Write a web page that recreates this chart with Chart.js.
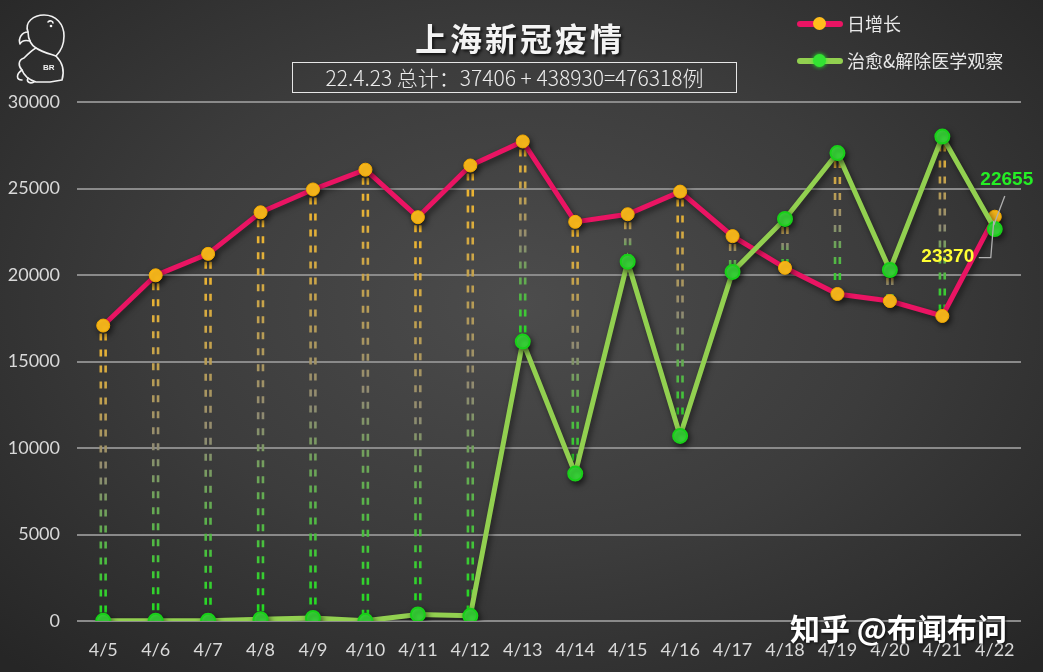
<!DOCTYPE html>
<html>
<head>
<meta charset="utf-8">
<script src="https://cdn.jsdelivr.net/npm/chart.js@4.4.0/dist/chart.umd.min.js"></script>
<style>
  html, body { margin: 0; padding: 0; }
  body {
    width: 1043px; height: 672px; overflow: hidden; position: relative;
    background: radial-gradient(ellipse 70% 75% at 50% 45%, #4c4c4c 0%, #3c3c3c 50%, #262626 100%);
    font-family: "Noto Sans CJK SC", "Noto Sans", sans-serif;
  }
  #wrap { position: absolute; left: 0; top: 0; width: 1043px; height: 672px; }
  .title {
    position: absolute; left: 300px; width: 440px; top: 14px; text-align: center;
    color: #f4f4f4; font-size: 32px; font-weight: bold; letter-spacing: 3px;
    text-shadow: 2px 2px 3px rgba(0,0,0,0.7);
  }
  .sub {
    position: absolute; left: 292px; top: 62px; width: 443px; height: 29px;
    border: 1.5px solid #e6e6e6; color: #ececec; font-size: 21px; line-height: 29px;
    text-align: center; box-sizing: content-box; font-weight: 300;
  }
  .legend { position: absolute; left: 797px; color: #e8e8e8; font-size: 18px; line-height: 20px; }
  .legend .ln { position: absolute; left: 0; top: 7px; width: 46px; height: 6px; border-radius: 3px; }
  .legend .dot { position: absolute; left: 16px; top: 3px; width: 13px; height: 13px; border-radius: 50%; }
  .legend span { position: absolute; left: 50px; top: -1px; white-space: nowrap; }
  .mark {
    position: absolute; left: 790px; top: 605px; color: #fff; font-size: 30px; font-weight: bold;
    white-space: nowrap; text-shadow: 1px 1px 3px rgba(0,0,0,0.8);
  }
</style>
</head>
<body>
<div id="wrap"><canvas id="chart" width="1043" height="672"></canvas></div>

<svg style="position:absolute;left:10px;top:10px" width="70" height="76" viewBox="0 0 70 76">
  <g fill="none" stroke="#f2f2f2" stroke-width="1.6" stroke-linejoin="round" stroke-linecap="round">
    <path d="M18 22 C14 12 24 5 34 5 C46 5 54 14 54 26 C54 36 50 42 46 46 C52 52 55 60 52 70 L40 72 L26 72 C20 70 14 66 12 60 C8 56 8 50 14 48 C18 44 22 40 26 38 C22 36 18 30 18 22 Z"/>
    <path d="M18 22 C12 22 8 28 10 34 C12 30 16 30 20 31"/>
    <path d="M26 38 C32 42 40 44 46 46"/>
    <path d="M12 60 C6 64 6 70 12 70 M18 68 C16 72 20 74 24 72"/>
    <path d="M38 12 C40 10 43 11 43 13"/>
  </g>
  <circle cx="41" cy="16" r="1.3" fill="#f2f2f2"/>
  <text x="33" y="60" fill="#f2f2f2" font-family="Liberation Sans" font-weight="bold" font-size="8">BR</text>
</svg>

<div class="title">上海新冠疫情</div>
<div class="sub">22.4.23 总计：37406 + 438930=476318例</div>

<div class="legend" style="top:14px">
  <div class="ln" style="background:#ea1463"></div>
  <div class="dot" style="background:#ffbd1c"></div>
  <span>日增长</span>
</div>
<div class="legend" style="top:51px">
  <div class="ln" style="background:#92d050"></div>
  <div class="dot" style="background:#33e333;box-shadow:0 0 4px #2f2"></div>
  <span>治愈&amp;解除医学观察</span>
</div>

<div class="mark">知乎 @布闻布问</div>

<script>
// data
var days = ["4/5", "4/6", "4/7", "4/8", "4/9", "4/10", "4/11", "4/12", "4/13",
            "4/14", "4/15", "4/16", "4/17", "4/18", "4/19", "4/20", "4/21", "4/22"];
var dailyNew = [17077, 19982, 21222, 23624, 24944, 26087, 23342, 26330, 27719,
                23072, 23513, 24820, 22248, 20416, 18901, 18495, 17629, 23370];
var curedReleased = [10, 20, 15, 100, 180, 10, 380, 300, 16150,
                     8520, 20770, 10700, 20180, 23240, 27050, 20290, 28000, 22655];
var yTicks = [0, 5000, 10000, 15000, 20000, 25000, 30000];

var tickFont = { family: "Lato, 'Open Sans', sans-serif", size: 18 };

// double dashed drop lines between the two series
var dropLines = {
    id: "dropLines",
    beforeDatasetsDraw: function(chart) {
        var ctx = chart.ctx, xs = chart.scales.x, ys = chart.scales.y;
        ctx.save();
        ctx.lineWidth = 2.6;
        ctx.setLineDash([7, 9]);
        for (var i = 0; i < days.length; i++) {
            var x = xs.getPixelForValue(i);
            var a = ys.getPixelForValue(dailyNew[i]);
            var b = ys.getPixelForValue(curedReleased[i]);
            var top = Math.min(a, b), bot = Math.max(a, b);
            var g = ctx.createLinearGradient(0, top, 0, bot);
            g.addColorStop(0, "#f7b92a");
            g.addColorStop(0.5, "#8f8a72");
            g.addColorStop(1, "#1fe01f");
            ctx.strokeStyle = g;
            [-2.4, 2.4].forEach(function(dx) {
                ctx.beginPath();
                ctx.moveTo(x + dx, top + 8);
                ctx.lineTo(x + dx, bot);
                ctx.stroke();
            });
        }
        ctx.restore();
    },
    beforeDatasetDraw: function(chart, args) {
        var ctx = chart.ctx;
        ctx.save();
        ctx.shadowColor = "rgba(0,0,0,0.55)";
        ctx.shadowBlur = 6;
        ctx.shadowOffsetX = 2;
        ctx.shadowOffsetY = 3;
    },
    afterDatasetDraw: function(chart) {
        chart.ctx.restore();
    }
};

// value labels on the last day
var lastLabels = {
    id: "lastLabels",
    afterDatasetsDraw: function(chart) {
        var ctx = chart.ctx, xs = chart.scales.x, ys = chart.scales.y;
        var n = days.length - 1;
        var x = xs.getPixelForValue(n);
        var yp = ys.getPixelForValue(dailyNew[n]);
        var yg = ys.getPixelForValue(curedReleased[n]);
        ctx.save();
        ctx.strokeStyle = "#b0b0b0";
        ctx.lineWidth = 1.3;
        ctx.beginPath();
        ctx.moveTo(x + 10, yg - 33);
        ctx.lineTo(x - 1, yg - 4);
        ctx.stroke();
        ctx.beginPath();
        ctx.moveTo(x - 16, yp + 41);
        ctx.lineTo(x - 4, yp + 41);
        ctx.lineTo(x - 1, yp + 4);
        ctx.stroke();
        ctx.font = "bold 19px 'Liberation Sans', sans-serif";
        ctx.textAlign = "center";
        ctx.textBaseline = "middle";
        ctx.fillStyle = "#25ee25";
        ctx.fillText(String(curedReleased[n]), x + 12, yg - 49);
        ctx.fillStyle = "#ffff33";
        ctx.fillText(String(dailyNew[n]), x - 47, yp + 40);
        ctx.restore();
    }
};

new Chart(document.getElementById("chart"), {
    type: "line",
    data: {
        labels: days,
        datasets: [{
            label: "治愈&解除医学观察",
            data: curedReleased,
            borderColor: "#92d050",
            borderWidth: 5,
            pointRadius: 7,
            pointBackgroundColor: "#3be03b",
            pointBorderColor: "#18d018",
            pointBorderWidth: 2,
            tension: 0
        }, {
            label: "日增长",
            data: dailyNew,
            borderColor: "#ea1463",
            borderWidth: 5,
            pointRadius: 6.5,
            pointBackgroundColor: "#ffbd1c",
            pointBorderColor: "#f3aa00",
            pointBorderWidth: 1,
            tension: 0
        }]
    },
    options: {
        responsive: false,
        animation: false,
        layout: { padding: { top: 102, right: 22, left: 0, bottom: 0 } },
        plugins: { legend: { display: false }, tooltip: { enabled: false } },
        scales: {
            x: {
                offset: true,
                grid: { display: false },
                border: { display: false },
                ticks: { color: "#d9d9d9", font: tickFont, padding: 10, maxRotation: 0, autoSkip: false },
                afterFit: function(s) { s.height = 51; }
            },
            y: {
                min: 0,
                max: 30000,
                afterBuildTicks: function(s) { s.ticks = yTicks.map(function(v) { return { value: v }; }); },
                grid: { color: "#8a8a8a", lineWidth: 2, drawTicks: false },
                border: { display: false },
                ticks: {
                    color: "#d9d9d9", font: tickFont, padding: 17,
                    callback: function(v) { return String(v); }
                },
                afterFit: function(s) { s.width = 77; }
            }
        }
    },
    plugins: [dropLines, lastLabels]
});
</script>
</body>
</html>
